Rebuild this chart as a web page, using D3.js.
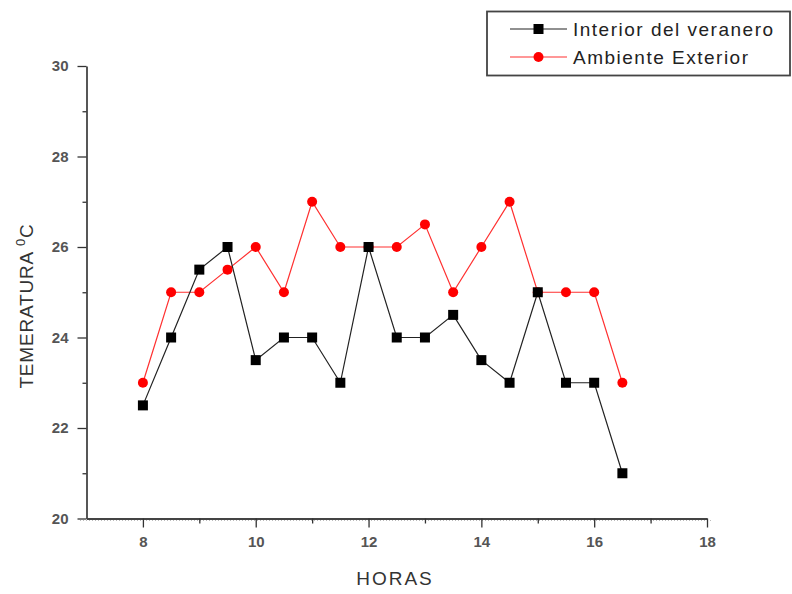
<!DOCTYPE html>
<html><head><meta charset="utf-8">
<script src="https://cdn.jsdelivr.net/npm/d3@7/dist/d3.min.js"></script>
<style>body{margin:0;background:#fff}svg{display:block}</style>
</head><body>
<svg id="c" width="792" height="594"></svg>
<script>
const hours = [8,8.5,9,9.5,10,10.5,11,11.5,12,12.5,13,13.5,14,14.5,15,15.5,16,16.5];
const interior = [22.5,24,25.5,26,23.5,24,24,23,26,24,24,24.5,23.5,23,25,23,23,21];
const exterior = [23,25,25,25.5,26,25,27,26,26,26,26.5,25,26,27,25,25,25,23];
const xTicks = [8,10,12,14,16,18];
const yTicks = [20,22,24,26,28,30];
const seriesNames = ["Interior del veranero","Ambiente Exterior"];

const svg = d3.select("#c");
const x = d3.scaleLinear().domain([7,18]).range([86.5,707]);
const y = d3.scaleLinear().domain([20,30]).range([518.5,66]);
const font = "Liberation Sans, Arial, sans-serif";

// dotted baseline
svg.append("line").attr("x1",80).attr("x2",712).attr("y1",y(20)+2).attr("y2",y(20)+2)
  .attr("stroke","#bbb").attr("stroke-dasharray","1,2");

svg.append("g").attr("transform",`translate(0,${y(20)})`)
  .call(d3.axisBottom(x).tickValues(xTicks).tickSize(9).tickSizeOuter(0).tickPadding(9));
svg.append("g").attr("transform",`translate(0,${y(20)})`)
  .call(d3.axisBottom(x).tickValues([9,11,13,15,17]).tickSize(5).tickSizeOuter(0).tickFormat(""))
  .call(g=>g.select(".domain").remove());
svg.append("g").attr("transform",`translate(${x(7)},0)`)
  .call(d3.axisLeft(y).tickValues(yTicks).tickSize(9).tickSizeOuter(0).tickPadding(9));
svg.append("g").attr("transform",`translate(${x(7)},0)`)
  .call(d3.axisLeft(y).tickValues([21,23,25,27,29]).tickSize(4).tickSizeOuter(0).tickFormat(""))
  .call(g=>g.select(".domain").remove());
svg.selectAll(".domain").attr("stroke","#444").attr("stroke-width",1.8);
svg.selectAll(".tick line").attr("stroke","#333").attr("stroke-width",1.3);
svg.selectAll(".tick text").attr("font-family",font)
  .attr("font-size",15).attr("fill","#555").attr("font-weight","bold");

// axis titles
svg.append("text").attr("x",395).attr("y",585).attr("text-anchor","middle")
  .attr("font-family",font).attr("font-size",19)
  .attr("fill","#333").attr("letter-spacing",2).text("HORAS");
const yt = svg.append("text").attr("transform","translate(33,306) rotate(-90)")
  .attr("text-anchor","middle").attr("font-family",font)
  .attr("font-size",19).attr("fill","#333").attr("letter-spacing",0.8);
yt.append("tspan").text("TEMERATURA ");
yt.append("tspan").attr("font-size",13).attr("dy",-8).text("0");
yt.append("tspan").attr("dy",8).text("C");

const line = d3.line().x(d=>x(d[0])).y(d=>y(d[1]));
const dInt = hours.map((h,i)=>[h,interior[i]]);
const dExt = hours.map((h,i)=>[h,exterior[i]]);

svg.append("path").datum(dExt).attr("d",line).attr("fill","none").attr("stroke","#ff3030").attr("stroke-width",1.2);
svg.append("path").datum(dInt).attr("d",line).attr("fill","none").attr("stroke","#222").attr("stroke-width",1.2);
svg.selectAll(".ce").data(dExt).join("circle").attr("cx",d=>x(d[0])).attr("cy",d=>y(d[1]))
  .attr("r",5).attr("fill","#ff0000");
svg.selectAll(".sq").data(dInt).join("rect").attr("x",d=>x(d[0])-5).attr("y",d=>y(d[1])-5)
  .attr("width",10).attr("height",10).attr("fill","#000");

// legend
const lg = svg.append("g");
lg.append("rect").attr("x",487).attr("y",11.5).attr("width",303).attr("height",64)
  .attr("fill","#fff").attr("stroke","#444").attr("stroke-width",1.8);
const lgY = [29,57];
const colors = ["#222","#ff3030"];
lg.selectAll(".ll").data(seriesNames).join("line").attr("x1",510).attr("x2",567)
  .attr("y1",(d,i)=>lgY[i]).attr("y2",(d,i)=>lgY[i]).attr("stroke",(d,i)=>colors[i]).attr("stroke-width",1.2);
lg.append("rect").attr("x",533.5).attr("y",lgY[0]-5).attr("width",10).attr("height",10).attr("fill","#000");
lg.append("circle").attr("cx",538.5).attr("cy",lgY[1]).attr("r",5).attr("fill","#ff0000");
lg.selectAll(".lt").data(seriesNames).join("text").attr("x",573).attr("y",(d,i)=>lgY[i]+6.5)
  .attr("font-family",font).attr("font-size",19)
  .attr("fill","#222").attr("letter-spacing",1.5).text(d=>d);
</script>
</body></html>
